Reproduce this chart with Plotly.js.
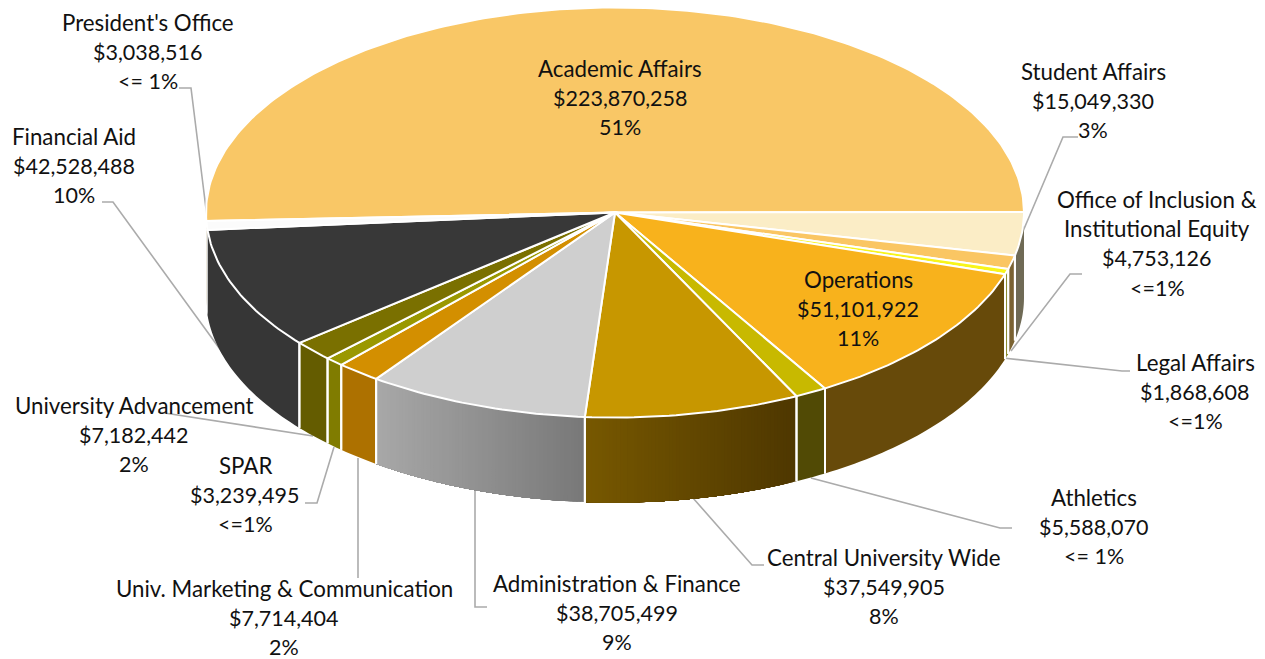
<!DOCTYPE html>
<html>
<head>
<meta charset="utf-8">
<script src="https://cdn.plot.ly/plotly-3.0.1.min.js"></script>
<style>html,body{margin:0;padding:0;background:#fff;overflow:hidden}#chart{width:1265px;height:659px}</style>
</head>
<body>
<div id="chart"></div>
<script>
// Data, in drawing order (clockwise from the start of Academic Affairs)
var categories = ["Academic Affairs","Student Affairs","Office of Inclusion & Institutional Equity","Legal Affairs","Operations","Athletics","Central University Wide","Administration & Finance","Univ. Marketing & Communication","SPAR","University Advancement","Financial Aid","President's Office"];
var values = [223870258,15049330,4753126,1868608,51101922,5588070,37549905,38705499,7714404,3239495,7182442,42528488,3038516];
var percentText = ["51%","3%","<=1%","<=1%","11%","<= 1%","8%","9%","2%","<=1%","2%","10%","<= 1%"];

// Styles
var topColors = ["#F9C766","#FBEDC6","#FAC663","#F8F51A","#F8B21C","#C8B900","#C79700","#CFCFCF","#D38F00","#9A9800","#7A7000","#383838","#FBFBFB"];
var sideLeft  = ["#8a6a20","#6f6a55","#7a6232","#7d7d18","#674A0A","#514A05","#775800","#A8A8A8","#AD7100","#807C00","#645C00","#363636","#FBFBFB"];
var sideRight = ["#8a6a20","#6f6a55","#7a6232","#7d7d18","#674A0A","#514A05","#4E3700","#787878","#AD7100","#807C00","#645C00","#363636","#FBFBFB"];

// Label text lines and positions (px in the 1265x659 frame)
var labelLines = [
  ["Academic Affairs"],["Student Affairs"],["Office of Inclusion &","Institutional Equity"],["Legal Affairs"],
  ["Operations"],["Athletics"],["Central University Wide"],["Administration & Finance"],
  ["Univ. Marketing & Communication"],["SPAR"],["University Advancement"],["Financial Aid"],["President's Office"]];
var labelX = [620,1093,1157,1195,858,1094,884,617,284,245,134,74,148];
var labelY = [68,71,199,362,279,497,557,583,588,465,405,136,22];
var lineGap = 29.7;

// Leader lines
var leaders = [
  [[179,88],[191,88],[208,225]],
  [[102,202],[113,202],[238,374]],
  [[1078,137],[1063,137],[1021,236]],
  [[1082,274],[1070,274],[1011,351]],
  [[1003,358],[1122,371],[1130,371]],
  [[811,478],[1000,528],[1012,528]],
  [[693,498],[752,565],[764,565]],
  [[475,489],[475,607],[487,607]],
  [[358,458],[358,578]],
  [[334,447],[317,503],[305,503]],
  [[158,412],[313,436]]
];

// Pie projection
var cx = 615, cy = 212.5, rx = 409, ry = 205, depth = 85, startDeg = 267.6;

function hex(c){return [parseInt(c.substr(1,2),16),parseInt(c.substr(3,2),16),parseInt(c.substr(5,2),16)];}
function mix(a,b,t){var A=hex(a),B=hex(b);return 'rgb('+A.map(function(v,i){return Math.round(v+(B[i]-v)*t);}).join(',')+')';}
function px(d){return cx+rx*Math.sin(d*Math.PI/180);}
function py(d){return cy-ry*Math.cos(d*Math.PI/180);}

var total = values.reduce(function(a,b){return a+b;},0);
var sideTraces=[], edgeTraces=[], topTraces=[], a=startDeg;
values.forEach(function(v,i){
  var span=v/total*360, a0=a, a1=a+span; a=a1;
  // top face
  var xs=[cx], ys=[cy], n=Math.max(2,Math.ceil(span));
  for(var k=0;k<=n;k++){var d=a0+span*k/n; xs.push(px(d)); ys.push(py(d));}
  xs.push(cx); ys.push(cy);
  topTraces.push({x:xs,y:ys,mode:'lines',fill:'toself',fillcolor:topColors[i],line:{color:'#fff',width:2},
    name:categories[i],hoverinfo:'name',showlegend:false});
  // visible side between 90 and 270 degrees, in any wrap of the angle
  var lo=Math.max(a0,90), hi=Math.min(a1,270);
  if(a0>=360){lo=Math.max(a0-360,90);hi=Math.min(a1-360,270);}
  if(hi>lo){
    // each band runs to the end of the slice and the next band paints over it, so no seams show
    var strips=sideLeft[i]===sideRight[i]?1:Math.ceil((hi-lo)/0.5);
    var xHi=px(lo), xLo=px(hi);
    for(var s=0;s<strips;s++){
      var d0=lo+(hi-lo)*s/strips, d1=lo+(hi-lo)*(s+1)/strips;
      var sx=[],sy=[], m=Math.max(2,Math.ceil(hi-d0));
      for(var q=0;q<=m;q++){var e=d0+(hi-d0)*q/m; sx.push(px(e)); sy.push(py(e));}
      for(q=m;q>=0;q--){var e2=d0+(hi-d0)*q/m; sx.push(px(e2)); sy.push(py(e2)+depth);}
      sx.push(sx[0]); sy.push(sy[0]);
      var t=(px((d0+d1)/2)-xLo)/(xHi-xLo);
      var col=mix(sideLeft[i],sideRight[i],t);
      sideTraces.push({x:sx,y:sy,mode:'none',fill:'toself',fillcolor:col,hoverinfo:'skip',showlegend:false});
    }
    [lo,hi].forEach(function(d){
      if(d<=90||d>=260) return;
      edgeTraces.push({x:[px(d),px(d)],y:[py(d),py(d)+depth],mode:'lines',line:{color:'#fff',width:2},hoverinfo:'skip',showlegend:false});
    });
  }
});

var leaderTraces = leaders.map(function(L){
  return {x:L.map(function(p){return p[0];}),y:L.map(function(p){return p[1];}),mode:'lines',line:{color:'#ABABAB',width:1.6},hoverinfo:'skip',showlegend:false};
});

function money(v){return '$'+String(v).replace(/\B(?=(\d{3})+$)/g,',');}
var annotations=[];
categories.forEach(function(c,i){
  var names=labelLines[i];
  var lines=names.concat([money(values[i]),percentText[i].replace('<','&lt;')]);
  lines.forEach(function(t,j){
    annotations.push({x:labelX[i],y:labelY[i]+j*lineGap,xref:'x',yref:'y',text:t,showarrow:false,xanchor:'center',yanchor:'middle',
      font:{family:'Lato, "Open Sans", sans-serif',size:j<names.length?22.3:21.5,color:'#111111'}});
  });
});

var layout={
  width:1265,height:659,margin:{l:0,r:0,t:0,b:0},paper_bgcolor:'#fff',plot_bgcolor:'#fff',showlegend:false,hovermode:'closest',
  xaxis:{range:[0,1265],visible:false,fixedrange:true},
  yaxis:{range:[659,0],visible:false,fixedrange:true},
  annotations:annotations
};
Plotly.newPlot('chart',leaderTraces.concat(sideTraces,edgeTraces,topTraces),layout,{displayModeBar:false,responsive:false});
</script>
</body>
</html>
